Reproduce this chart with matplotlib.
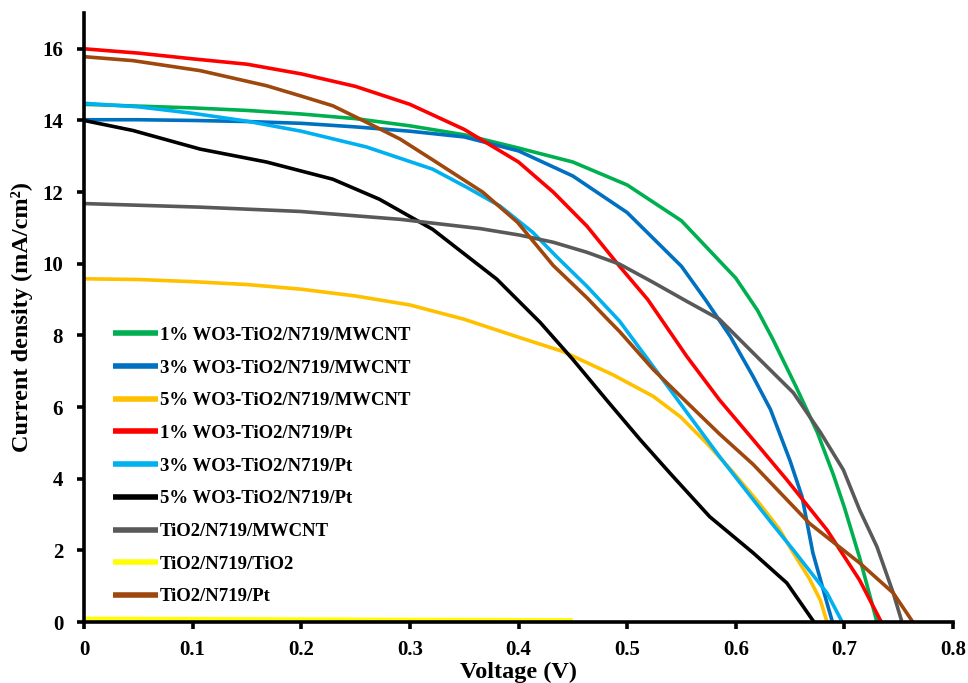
import matplotlib
matplotlib.use("Agg")
import matplotlib.pyplot as plt

# ---- data (voltage V, current density mA/cm2) ----
v_1mw = [0, 0.05, 0.1, 0.15, 0.2, 0.25, 0.3, 0.35, 0.4, 0.45, 0.5, 0.55, 0.6, 0.62, 0.634, 0.655, 0.675, 0.69, 0.7, 0.714, 0.73]
j_1mw = [14.45, 14.4, 14.35, 14.28, 14.18, 14.05, 13.85, 13.6, 13.23, 12.84, 12.2, 11.2, 9.6, 8.7, 7.9, 6.6, 5.3, 4.1, 3.2, 1.8, 0.0]

v_3mw = [0, 0.05, 0.1, 0.15, 0.2, 0.25, 0.3, 0.35, 0.4, 0.45, 0.5, 0.55, 0.572, 0.595, 0.616, 0.632, 0.65, 0.661, 0.671, 0.684, 0.689]
j_3mw = [14.02, 14.02, 14.0, 13.97, 13.92, 13.82, 13.7, 13.54, 13.15, 12.45, 11.43, 9.93, 9.0, 7.97, 6.85, 5.93, 4.5, 3.5, 1.93, 0.53, 0.0]

v_5mw = [0, 0.05, 0.1, 0.15, 0.2, 0.25, 0.3, 0.35, 0.4, 0.441, 0.487, 0.524, 0.549, 0.573, 0.597, 0.622, 0.64, 0.653, 0.668, 0.678, 0.684]
j_5mw = [9.58, 9.56, 9.5, 9.42, 9.29, 9.1, 8.85, 8.45, 7.95, 7.55, 6.9, 6.3, 5.73, 5.0, 4.2, 3.3, 2.6, 1.93, 1.2, 0.6, 0.0]

v_1pt = [0, 0.05, 0.1, 0.15, 0.2, 0.25, 0.3, 0.35, 0.4, 0.432, 0.463, 0.493, 0.519, 0.555, 0.585, 0.616, 0.647, 0.684, 0.714, 0.734]
j_1pt = [16.0, 15.88, 15.72, 15.57, 15.3, 14.95, 14.45, 13.75, 12.84, 12.0, 11.05, 9.93, 9.0, 7.41, 6.2, 5.09, 3.97, 2.57, 1.17, 0.0]

v_3pt = [0, 0.05, 0.1, 0.15, 0.2, 0.26, 0.321, 0.352, 0.383, 0.413, 0.435, 0.463, 0.493, 0.524, 0.555, 0.585, 0.61, 0.632, 0.653, 0.684, 0.698]
j_3pt = [14.48, 14.38, 14.2, 13.98, 13.7, 13.26, 12.64, 12.14, 11.61, 10.88, 10.2, 9.37, 8.4, 7.13, 5.85, 4.62, 3.65, 2.8, 2.01, 0.81, 0.0]

v_5pt = [0, 0.045, 0.107, 0.168, 0.229, 0.272, 0.321, 0.38, 0.42, 0.45, 0.481, 0.512, 0.539, 0.576, 0.616, 0.647, 0.672]
j_5pt = [14.0, 13.72, 13.2, 12.84, 12.36, 11.8, 10.96, 9.57, 8.36, 7.33, 6.2, 5.09, 4.17, 2.94, 1.93, 1.09, 0.0]

v_timw = [0, 0.107, 0.199, 0.291, 0.365, 0.401, 0.432, 0.463, 0.493, 0.524, 0.555, 0.585, 0.622, 0.653, 0.678, 0.699, 0.714, 0.73, 0.745, 0.753]
j_timw = [11.68, 11.58, 11.46, 11.24, 10.98, 10.8, 10.6, 10.32, 9.99, 9.48, 8.95, 8.45, 7.33, 6.4, 5.29, 4.25, 3.13, 2.1, 0.81, 0.0]

v_titi = [0, 0.1, 0.2, 0.3, 0.45]
j_titi = [0.1, 0.09, 0.08, 0.07, 0.06]

v_tipt = [0, 0.045, 0.107, 0.168, 0.2, 0.229, 0.26, 0.291, 0.321, 0.367, 0.399, 0.432, 0.463, 0.482, 0.493, 0.524, 0.555, 0.585, 0.616, 0.668, 0.714, 0.745, 0.763]
j_tipt = [15.78, 15.67, 15.39, 14.97, 14.68, 14.41, 13.95, 13.48, 12.9, 12.0, 11.16, 9.95, 9.05, 8.45, 8.11, 7.05, 6.13, 5.25, 4.4, 2.75, 1.65, 0.81, 0.0]

labels = ["1% WO3-TiO2/N719/MWCNT", "3% WO3-TiO2/N719/MWCNT", "5% WO3-TiO2/N719/MWCNT",
          "1% WO3-TiO2/N719/Pt", "3% WO3-TiO2/N719/Pt", "5% WO3-TiO2/N719/Pt",
          "TiO2/N719/MWCNT", "TiO2/N719/TiO2", "TiO2/N719/Pt"]
colors = ["#00B050", "#0070C0", "#FFC000", "#FF0000", "#00B0F0", "#000000",
          "#595959", "#FFFF00", "#9E480E"]
series = [(v_1mw, j_1mw), (v_3mw, j_3mw), (v_5mw, j_5mw), (v_1pt, j_1pt), (v_3pt, j_3pt),
          (v_5pt, j_5pt), (v_timw, j_timw), (v_titi, j_titi), (v_tipt, j_tipt)]

xticks = [0, 0.1, 0.2, 0.3, 0.4, 0.5, 0.6, 0.7, 0.8]
xticklabels = ["0", "0.1", "0.2", "0.3", "0.4", "0.5", "0.6", "0.7", "0.8"]
yticks = [0, 2, 4, 6, 8, 10, 12, 14, 16]

plt.rcParams['font.family'] = ['Liberation Serif', 'DejaVu Serif']
plt.rcParams['font.weight'] = 'bold'

fig = plt.figure(figsize=(9.68, 6.83), dpi=100)
ax = fig.add_axes([0.0868, 0.0893, 0.8977, 0.8917])

for (v, j), c, lab in zip(series, colors, labels):
    ax.plot(v, j, color=c, lw=2.6, label=lab, solid_capstyle='butt')

ax.set_xlim(0, 0.8)
ax.set_ylim(0, 17)
ax.set_xticks(xticks)
ax.set_xticklabels(xticklabels)
ax.set_yticks(yticks)
for s in ['top', 'right']:
    ax.spines[s].set_visible(False)
for s in ['left', 'bottom']:
    ax.spines[s].set_linewidth(2.6)
ax.tick_params(axis='both', direction='out', length=5, width=2.6, labelsize=15)
ax.tick_params(axis='x', pad=8)
ax.tick_params(axis='y', pad=10)
for t in ax.get_xticklabels() + ax.get_yticklabels():
    t.set_fontweight('bold')

ax.set_xlabel("Voltage (V)", fontsize=17.5, fontweight='bold', labelpad=1)
ax.set_ylabel("Current density (mA/cm²)", fontsize=17.5, fontweight='bold', labelpad=7)

leg = ax.legend(loc='upper left', bbox_to_anchor=(0.0222, 0.50), frameon=False,
                prop={'family': 'Liberation Serif', 'weight': 'bold', 'size': 13.5},
                handlelength=2.4, handletextpad=0.1, labelspacing=0.83, borderpad=0)
for line in leg.get_lines():
    line.set_linewidth(4)

fig.savefig("out.png", dpi=100)
